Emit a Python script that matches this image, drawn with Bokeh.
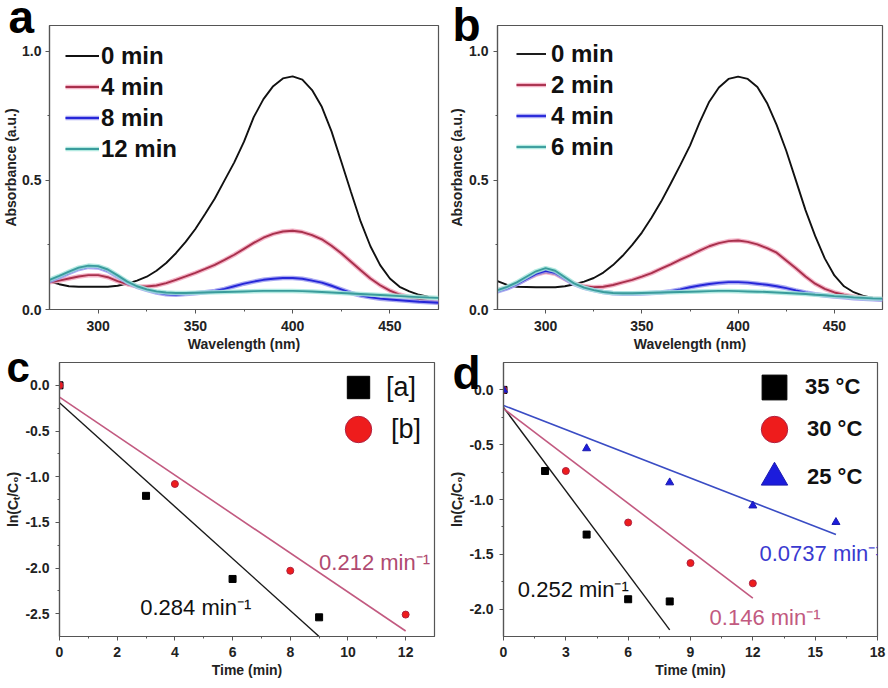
from bokeh.plotting import figure
from bokeh.models import Range1d, FixedTicker, NumeralTickFormatter, Legend, LegendItem, Label
from bokeh.layouts import column, row
from bokeh.embed import file_html
from bokeh.resources import INLINE

FONT = "Liberation Sans"
AX = "#555555"

# ---------------- data ----------------
wavelength = [275, 280, 285, 290, 295, 300, 305, 310, 315, 320, 325, 330, 335, 340, 345, 350,
              355, 360, 365, 370, 375, 380, 385, 390, 395, 400, 405, 410, 415, 420, 425, 430,
              435, 440, 445, 450, 455, 460, 465, 470, 475]

a_labels = ["0 min", "4 min", "8 min", "12 min"]
a_0 = [0.108, 0.098, 0.090, 0.088, 0.088, 0.088, 0.088, 0.092, 0.100, 0.112, 0.127, 0.150, 0.180,
       0.218, 0.262, 0.312, 0.370, 0.430, 0.500, 0.570, 0.650, 0.745, 0.815, 0.865, 0.895, 0.903,
       0.890, 0.850, 0.785, 0.690, 0.573, 0.455, 0.340, 0.245, 0.172, 0.120, 0.088, 0.070, 0.057,
       0.049, 0.045]
a_4 = [0.105, 0.112, 0.120, 0.128, 0.133, 0.133, 0.125, 0.110, 0.098, 0.090, 0.089, 0.093, 0.102,
       0.115, 0.128, 0.142, 0.157, 0.173, 0.192, 0.212, 0.235, 0.258, 0.278, 0.293, 0.302, 0.305,
       0.300, 0.288, 0.272, 0.247, 0.218, 0.185, 0.152, 0.120, 0.094, 0.073, 0.058, 0.048, 0.039,
       0.032, 0.027]
a_8 = [0.110, 0.125, 0.142, 0.157, 0.165, 0.163, 0.150, 0.128, 0.105, 0.088, 0.076, 0.066, 0.059,
       0.057, 0.060, 0.063, 0.067, 0.072, 0.080, 0.090, 0.100, 0.108, 0.115, 0.119, 0.122, 0.122,
       0.119, 0.112, 0.104, 0.092, 0.078, 0.064, 0.054, 0.047, 0.042, 0.039, 0.036, 0.033, 0.030,
       0.028, 0.026]
a_12 = [0.115, 0.130, 0.147, 0.162, 0.170, 0.168, 0.155, 0.132, 0.108, 0.090, 0.078, 0.070, 0.066,
        0.064, 0.064, 0.065, 0.066, 0.067, 0.068, 0.069, 0.070, 0.071, 0.072, 0.072, 0.072, 0.072,
        0.071, 0.070, 0.068, 0.066, 0.064, 0.062, 0.060, 0.058, 0.056, 0.054, 0.052, 0.050, 0.048,
        0.046, 0.045]

b_labels = ["0 min", "2 min", "4 min", "6 min"]
b_0 = [0.110, 0.095, 0.088, 0.087, 0.086, 0.086, 0.086, 0.090, 0.098, 0.108, 0.122, 0.143, 0.172,
       0.208, 0.250, 0.298, 0.355, 0.418, 0.488, 0.560, 0.635, 0.725, 0.805, 0.860, 0.893, 0.902,
       0.893, 0.862, 0.800, 0.715, 0.615, 0.500, 0.385, 0.285, 0.198, 0.132, 0.090, 0.067, 0.053,
       0.045, 0.041]
b_2 = [0.075, 0.085, 0.100, 0.118, 0.135, 0.145, 0.138, 0.118, 0.100, 0.090, 0.086, 0.088, 0.095,
       0.105, 0.115, 0.127, 0.141, 0.158, 0.175, 0.193, 0.210, 0.228, 0.245, 0.257, 0.265, 0.267,
       0.262, 0.252, 0.238, 0.220, 0.190, 0.160, 0.128, 0.100, 0.080, 0.066, 0.057, 0.050, 0.045,
       0.042, 0.040]
b_4 = [0.070, 0.082, 0.098, 0.118, 0.138, 0.150, 0.142, 0.120, 0.098, 0.084, 0.075, 0.068, 0.063,
       0.061, 0.061, 0.062, 0.064, 0.066, 0.071, 0.078, 0.086, 0.093, 0.099, 0.103, 0.106, 0.106,
       0.104, 0.100, 0.096, 0.090, 0.083, 0.074, 0.066, 0.059, 0.054, 0.050, 0.047, 0.044, 0.042,
       0.040, 0.038]
b_6 = [0.075, 0.088, 0.105, 0.127, 0.148, 0.160, 0.150, 0.125, 0.100, 0.085, 0.075, 0.068, 0.064,
       0.063, 0.063, 0.064, 0.065, 0.066, 0.067, 0.068, 0.069, 0.070, 0.071, 0.072, 0.072, 0.071,
       0.070, 0.069, 0.068, 0.066, 0.064, 0.062, 0.060, 0.057, 0.055, 0.052, 0.050, 0.047, 0.045,
       0.043, 0.042]

# panel c: ln(Ct/C0) vs time
c_labels = ["[a]", "[b]"]
c_a_t = [0, 3, 6, 9]
c_a_v = [0.0, -1.21, -2.12, -2.54]
c_b_t = [0, 4, 8, 12]
c_b_v = [0.0, -1.08, -2.03, -2.51]
c_fit_a_t = [0, 9]
c_fit_a_v = [-0.19, -2.75]
c_fit_b_t = [0, 12]
c_fit_b_v = [-0.13, -2.69]
c_rate_a = "0.284 min⁻¹"
c_rate_b = "0.212 min⁻¹"

# panel d
d_labels = ["35 °C", "30 °C", "25 °C"]
d_35_t = [0, 2, 4, 6, 8]
d_35_v = [0.0, -0.74, -1.32, -1.91, -1.93]
d_30_t = [0, 3, 6, 9, 12]
d_30_v = [0.0, -0.74, -1.21, -1.58, -1.765]
d_25_t = [0, 4, 8, 12, 16]
d_25_v = [0.0, -0.534, -0.845, -1.056, -1.207]
d_fit_35_t = [0, 8]
d_fit_35_v = [-0.16, -2.19]
d_fit_30_t = [0, 12]
d_fit_30_v = [-0.17, -1.90]
d_fit_25_t = [0, 16]
d_fit_25_v = [-0.142, -1.32]
d_rate_35 = "0.252 min⁻¹"
d_rate_30 = "0.146 min⁻¹"
d_rate_25 = "0.0737 min⁻¹"

spec_xticks = [300, 350, 400, 450]
spec_xminor = [325, 375, 425]
spec_yticks = [0.0, 0.5, 1.0]
spec_yminor = [0.25, 0.75]
c_xticks = [0, 2, 4, 6, 8, 10, 12]
c_xminor = [1, 3, 5, 7, 9, 11]
c_yticks = [0.0, -0.5, -1.0, -1.5, -2.0, -2.5]
c_yminor = [-0.25, -0.75, -1.25, -1.75, -2.25]
d_xticks = [0, 3, 6, 9, 12, 15, 18]
d_xminor = [1.5, 4.5, 7.5, 10.5, 13.5, 16.5]
d_yticks = [0.0, -0.5, -1.0, -1.5, -2.0]
d_yminor = [-0.25, -0.75, -1.25, -1.75]

# ---------------- styles ----------------
BLACK = "#111111"
RED = "#a8304c"
RED_HALO = "#f2a6bd"
BLUE = "#2626d8"
BLUE_HALO = "#9a9af0"
CYAN = "#3a9c9c"
CYAN_HALO = "#a6e6dc"


def make_fig(w, h, xr, yr, bl, br, bt, bb, xt, xm, yt, ym, xfmt, yfmt, xlabel, ylabel,
             xstand, xlstand, ystand, ylstand):
    p = figure(width=w, height=h, x_range=Range1d(*xr), y_range=Range1d(*yr),
               output_backend="svg", toolbar_location=None,
               min_border_left=bl, min_border_right=br, min_border_top=bt, min_border_bottom=bb)
    p.grid.visible = False
    p.outline_line_color = AX
    p.outline_line_width = 1.2
    p.xaxis.ticker = FixedTicker(ticks=xt, minor_ticks=xm)
    p.yaxis.ticker = FixedTicker(ticks=yt, minor_ticks=ym)
    p.xaxis.formatter = NumeralTickFormatter(format=xfmt)
    p.yaxis.formatter = NumeralTickFormatter(format=yfmt)
    p.xaxis.axis_label = xlabel
    p.yaxis.axis_label = ylabel
    for ax in (p.xaxis[0], p.yaxis[0]):
        ax.axis_line_color = AX
        ax.axis_line_width = 1.2
        ax.major_tick_line_color = AX
        ax.minor_tick_line_color = AX
        ax.major_tick_in = 0
        ax.major_tick_out = 4
        ax.minor_tick_in = 0
        ax.minor_tick_out = 2
        ax.major_label_text_font = FONT
        ax.major_label_text_font_style = "bold"
        ax.major_label_text_font_size = "14px"
        ax.major_label_text_color = "#222222"
        ax.axis_label_text_font = FONT
        ax.axis_label_text_font_style = "bold"
        ax.axis_label_text_font_size = "14px"
        ax.axis_label_text_color = "#222222"
    p.xaxis.major_label_standoff = xstand
    p.xaxis.axis_label_standoff = xlstand
    p.yaxis.major_label_standoff = ystand
    p.yaxis.axis_label_standoff = ylstand
    return p


def letter(p, txt, offset, standoff, size):
    # panel letter drawn as the figure's title, pulled down beside the frame
    p.title.text = txt
    p.title.align = "left"
    p.title.vertical_align = "bottom"
    p.title.offset = offset
    p.title.standoff = standoff
    p.title.text_font = FONT
    p.title.text_font_style = "bold"
    p.title.text_font_size = size
    p.title.text_color = "#000000"


def spectra(p, curves, labels, loc, standoff, gw):
    styles = [(BLACK, None), (RED, RED_HALO), (BLUE, BLUE_HALO), (CYAN, CYAN_HALO)]
    items = []
    for ys, lab, (col, halo) in zip(curves, labels, styles):
        rs = []
        if halo is not None:
            rs.append(p.line(wavelength, ys, line_color=halo, line_width=4.5, line_alpha=0.85))
        rs.append(p.line(wavelength, ys, line_color=col, line_width=1.9))
        items.append(LegendItem(label=lab, renderers=rs))
    lg = Legend(items=items, location=loc, border_line_color=None, background_fill_alpha=0,
                label_text_font=FONT, label_text_font_style="bold", label_text_font_size="24px",
                label_text_color="#111111", glyph_width=gw, glyph_height=31, label_height=31,
                spacing=0, padding=0, margin=0, label_standoff=standoff)
    p.add_layout(lg)


def key(p, label, renderer, loc, box, standoff, size, style):
    lg = Legend(items=[LegendItem(label=label, renderers=[renderer])], location=loc,
                border_line_color=None, background_fill_alpha=0,
                label_text_font=FONT, label_text_font_size=size, label_text_font_style=style,
                label_text_color="#111111", glyph_width=box, glyph_height=box, label_height=box,
                spacing=0, padding=0, margin=0, label_standoff=standoff)
    p.add_layout(lg)


H_TOP = 354
H_BOT = 688 - H_TOP

# ---------------- panel a ----------------
pa = make_fig(444, H_TOP, (275, 475), (0, 1.1), 47, 6, 23, H_TOP - 310,
              spec_xticks, spec_xminor, spec_yticks, spec_yminor, "0", "0.0",
              "Wavelength (nm)", "Absorbance (a.u.)", 7, 2, 4, 0)
spectra(pa, [a_0, a_4, a_8, a_12], a_labels, (16, 145), 2, 34)
letter(pa, "a", -41, -34, "46px")

# ---------------- panel b ----------------
pb = make_fig(444, H_TOP, (275, 475), (0, 1.1), 53, 6, 25, H_TOP - 309,
              spec_xticks, spec_xminor, spec_yticks, spec_yminor, "0", "0.0",
              "Wavelength (nm)", "Absorbance (a.u.)", 7, 2, 5, 1)
spectra(pb, [b_0, b_2, b_4, b_6], b_labels, (19, 147), 5, 30)
letter(pb, "b", -45, -50, "46px")

# ---------------- panel c ----------------
pc = make_fig(444, H_BOT, (0, 13), (-2.75, 0.25), 59, 10, 362 - H_TOP, 52,
              c_xticks, c_xminor, c_yticks, c_yminor, "0", "0.0",
              "Time (min)", "ln(Cₜ/C₀)", 6, 2, 6, 1)
pc.line(c_fit_a_t, c_fit_a_v, line_color="#1a1a1a", line_width=1.4)
pc.line(c_fit_b_t, c_fit_b_v, line_color="#c25a80", line_width=1.6)
rca = pc.scatter(c_a_t, c_a_v, marker="square", size=7, fill_color="#000000", line_color="#000000")
rcb = pc.scatter(c_b_t, c_b_v, marker="circle", size=7, fill_color="#ee1c1c", line_color="#b02040",
                 line_width=1)
key(pc, c_labels[0], rca, (271, 221), 56, 0, "27px", "normal")
key(pc, c_labels[1], rcb, (266, 174), 66, 0, "27px", "normal")
pc.add_layout(Label(x=2.8, y=-2.435, text=c_rate_a, text_font=FONT, text_font_size="22px",
                    text_color="#111111", text_baseline="middle"))
pc.add_layout(Label(x=9.0, y=-1.935, text=c_rate_b, text_font=FONT, text_font_size="22px",
                    text_color="#b04a70", text_baseline="middle"))
letter(pc, "c", -53, -56, "42px")

# ---------------- panel d ----------------
pd_ = make_fig(444, H_BOT, (0, 18), (-2.25, 0.25), 59, 11, 362 - H_TOP, 52,
               d_xticks, d_xminor, d_yticks, d_yminor, "0", "0.0",
               "Time (min)", "ln(Cₜ/C₀)", 6, 2, 6, 1)
pd_.line(d_fit_35_t, d_fit_35_v, line_color="#1a1a1a", line_width=1.4)
pd_.line(d_fit_30_t, d_fit_30_v, line_color="#c25a80", line_width=1.6)
pd_.line(d_fit_25_t, d_fit_25_v, line_color="#3a4cc4", line_width=1.6)
r35 = pd_.scatter(d_35_t, d_35_v, marker="square", size=7, fill_color="#000000", line_color="#000000")
r30 = pd_.scatter(d_30_t, d_30_v, marker="circle", size=7, fill_color="#ee1c1c", line_color="#b02040",
                  line_width=1)
r25 = pd_.scatter(d_25_t, d_25_v, marker="triangle", size=8, fill_color="#1c1cdc", line_color="#1c1cb0",
                  line_width=1)
key(pd_, d_labels[0], r35, (240, 218), 62, 0, "22px", "bold")
key(pd_, d_labels[1], r30, (238, 174), 66, 0, "22px", "bold")
key(pd_, d_labels[2], r25, (238, 126), 66, 0, "22px", "bold")
pd_.add_layout(Label(x=0.69, y=-1.825, text=d_rate_35, text_font=FONT, text_font_size="22px",
                     text_color="#111111", text_baseline="middle"))
pd_.add_layout(Label(x=9.92, y=-2.08, text=d_rate_30, text_font=FONT, text_font_size="22px",
                     text_color="#c25a80", text_baseline="middle"))
pd_.add_layout(Label(x=12.32, y=-1.49, text=d_rate_25, text_font=FONT, text_font_size="22px",
                     text_color="#3a3ad0", text_baseline="middle"))
letter(pd_, "d", -51, -72, "46px")

layout = column(row(pa, pb), row(pc, pd_))
open("out.html", "w").write(file_html(layout, INLINE))
